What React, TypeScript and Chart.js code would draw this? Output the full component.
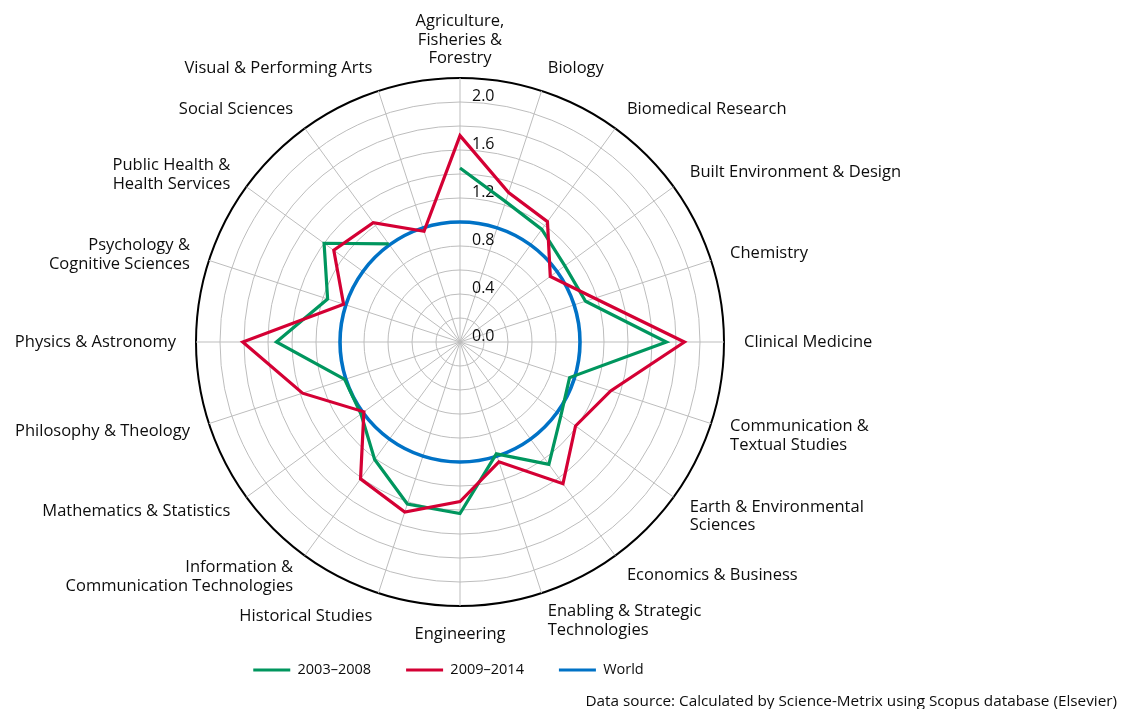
import React, { useEffect, useRef } from 'react';
import { Chart, registerables } from 'chart.js';

Chart.register(...registerables);

const CATEGORIES: string[][] = [
  ['Agriculture,', 'Fisheries &', 'Forestry'],
  ['Biology'],
  ['Biomedical Research'],
  ['Built Environment & Design'],
  ['Chemistry'],
  ['Clinical Medicine'],
  ['Communication &', 'Textual Studies'],
  ['Earth & Environmental', 'Sciences'],
  ['Economics & Business'],
  ['Enabling & Strategic', 'Technologies'],
  ['Engineering'],
  ['Historical Studies'],
  ['Information &', 'Communication Technologies'],
  ['Mathematics & Statistics'],
  ['Philosophy & Theology'],
  ['Physics & Astronomy'],
  ['Psychology &', 'Cognitive Sciences'],
  ['Public Health &', 'Health Services'],
  ['Social Sciences'],
  ['Visual & Performing Arts'],
];

const SERIES_2003_2008: (number | null)[] = [
  1.45, 1.23, 1.16, 1.08, 1.10, 1.72, 0.96, 1.04, 1.26, 0.98,
  1.43, 1.42, 1.21, 1.02, 1.01, 1.53, 1.16, 1.40, 1.01, null,
];
const SERIES_2009_2014: number[] = [
  1.72, 1.31, 1.24, 0.93, 1.18, 1.87, 1.32, 1.19, 1.46, 1.05,
  1.33, 1.49, 1.41, 0.99, 1.38, 1.81, 1.02, 1.30, 1.23, 0.97,
];
const WORLD: number[] = [
  1, 1, 1, 1, 1, 1, 1, 1, 1, 1,
  1, 1, 1, 1, 1, 1, 1, 1, 1, 1,
];
const SERIES_LABELS = ['2003–2008', '2009–2014', 'World'];
const TICK_VALUES = [0, 0.4, 0.8, 1.2, 1.6, 2.0];
const TICK_LABELS = ['0.0', '0.4', '0.8', '1.2', '1.6', '2.0'];
const SOURCE_TEXT = 'Data source: Calculated by Science-Metrix using Scopus database (Elsevier)';

const FONT = '"Open Sans", sans-serif';
const TEXT_COLOR = '#0d0d0d';
const GRID_COLOR = '#bdbdbd';
const GREEN = '#00965e';
const RED = '#d40034';
const BLUE = '#0072c6';

const textPlugin = {
  id: 'radarText',
  beforeDatasetsDraw(chart: any) {
    const scale = chart.scales.r;
    const ctx = chart.ctx as CanvasRenderingContext2D;
    ctx.save();
    ctx.font = `16px ${FONT}`;
    ctx.fillStyle = TEXT_COLOR;
    ctx.textAlign = 'left';
    ctx.textBaseline = 'middle';
    TICK_VALUES.forEach((v, i) => {
      const d = scale.getDistanceFromCenterForValue(v);
      ctx.fillText(TICK_LABELS[i], scale.xCenter + 12, scale.yCenter - d - 6);
    });
    ctx.restore();
  },
  afterDraw(chart: any) {
    const scale = chart.scales.r;
    const ctx = chart.ctx as CanvasRenderingContext2D;
    const labels = chart.data.labels as string[][];
    const lh = 18.5;
    ctx.save();
    ctx.font = `16.5px ${FONT}`;
    ctx.fillStyle = TEXT_COLOR;
    ctx.textBaseline = 'middle';
    labels.forEach((lines, i) => {
      const angle = scale.getIndexAngle(i);
      const deg = Math.round((angle * 180) / Math.PI) % 360;
      const onTop = deg === 0;
      const onBottom = deg === 180;
      const extra = onTop ? 10 : onBottom ? 19 : 20;
      const p = scale.getPointPosition(i, scale.drawingArea + extra);
      const blockH = lines.length * lh;
      let top: number;
      if (onTop) top = p.y - blockH;
      else if (onBottom) top = p.y;
      else {
        const shift = lines.length > 1 ? (deg < 180 ? 5 : 2) : 0;
        top = p.y - Math.cos(angle) * 4 - blockH / 2 + shift;
      }
      ctx.textAlign = onTop || onBottom ? 'center' : deg < 180 ? 'left' : 'right';
      lines.forEach((line, k) => ctx.fillText(line, p.x, top + lh * (k + 0.5)));
    });
    ctx.font = `15.3px ${FONT}`;
    ctx.textAlign = 'right';
    ctx.fillText(SOURCE_TEXT, chart.width - 9, chart.height - 7);
    ctx.restore();
  },
};

export default function App() {
  const ref = useRef<HTMLCanvasElement>(null);

  useEffect(() => {
    const canvas = ref.current;
    if (!canvas) return;
    Chart.defaults.font.family = FONT;
    const chart = new Chart(canvas, {
      type: 'radar',
      data: {
        labels: CATEGORIES,
        datasets: [
          {
            label: SERIES_LABELS[0],
            data: SERIES_2003_2008,
            borderColor: GREEN,
            backgroundColor: 'transparent',
            borderWidth: 3.2,
            pointRadius: 0,
            fill: false,
            spanGaps: false,
            order: 1,
          },
          {
            label: SERIES_LABELS[1],
            data: SERIES_2009_2014,
            borderColor: RED,
            backgroundColor: 'transparent',
            borderWidth: 3.2,
            pointRadius: 0,
            fill: false,
            order: 0,
          },
          {
            label: SERIES_LABELS[2],
            data: WORLD,
            borderColor: BLUE,
            backgroundColor: 'transparent',
            borderWidth: 3.6,
            pointRadius: 0,
            fill: false,
            tension: 0.34,
            order: 2,
          },
        ] as any,
      },
      options: {
        responsive: true,
        maintainAspectRatio: false,
        animation: false,
        events: [],
        layout: {
          padding: { top: 40, bottom: 21.75, left: 100, right: 337 },
        },
        scales: {
          r: {
            min: 0,
            max: 2.2,
            ticks: { display: false, stepSize: 0.2 },
            grid: {
              circular: true,
              color: (c: any) => (c.tick && c.tick.value > 2.1 ? '#000000' : GRID_COLOR),
              lineWidth: (c: any) => (c.tick && c.tick.value > 2.1 ? 2 : 1),
            },
            angleLines: { display: true, color: GRID_COLOR, lineWidth: 1 },
            pointLabels: { display: false },
            afterFit: (scale: any) => {
              scale.xCenter = 452;
              scale.yCenter = 334;
              scale.drawingArea = 264;
            },
          } as any,
        },
        plugins: {
          legend: {
            position: 'bottom',
            labels: {
              boxWidth: 37,
              boxHeight: 3,
              padding: 35,
              color: TEXT_COLOR,
              font: { family: FONT, size: 14.5 },
              generateLabels: (c: any) =>
                c.data.datasets.map((ds: any, i: number) => ({
                  text: ds.label,
                  fillStyle: ds.borderColor,
                  strokeStyle: ds.borderColor,
                  lineWidth: 0,
                  hidden: false,
                  datasetIndex: i,
                  fontColor: TEXT_COLOR,
                })),
            },
          },
          tooltip: { enabled: false },
        },
      },
      plugins: [textPlugin],
    });
    return () => chart.destroy();
  }, []);

  return (
    <div style={{ position: 'relative', width: 1118, height: 701 }}>
      <canvas ref={ref} />
    </div>
  );
}
